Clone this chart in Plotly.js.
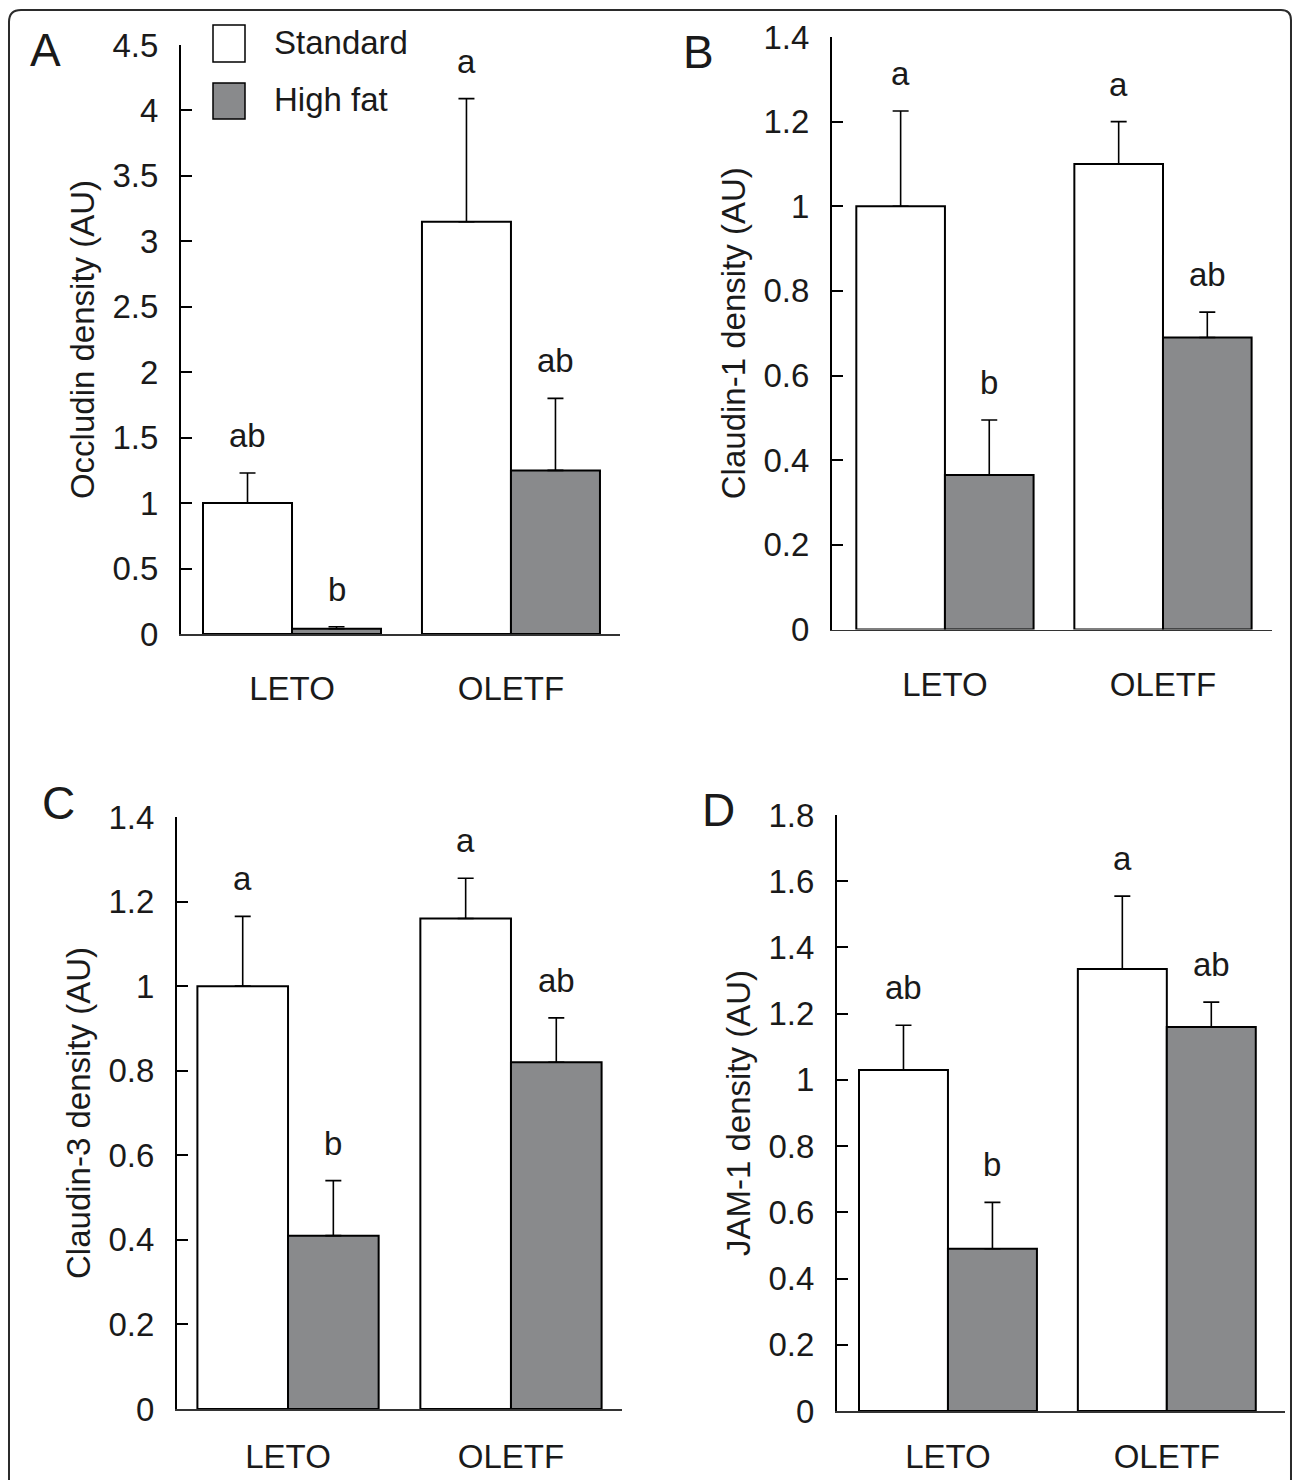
<!DOCTYPE html>
<html><head><meta charset="utf-8">
<script src="https://cdn.plot.ly/plotly-3.0.1.min.js"></script>
<style>html,body{margin:0;padding:0;background:#fff}</style>
</head><body><div id="chart" style="width:1293px;height:1480px"></div>
<script>
// ---------- data ----------
const categories = ['LETO', 'OLETF'];
const seriesNames = ['Standard', 'High fat'];

// Panel A: Occludin
const occludinStandard = [1.00, 3.15];
const occludinStandardErr = [0.23, 0.94];
const occludinHighFat = [0.04, 1.25];
const occludinHighFatErr = [0.015, 0.55];
const occludinStandardLetters = ['ab', 'a'];
const occludinHighFatLetters = ['b', 'ab'];

// Panel B: Claudin-1
const claudin1Standard = [1.00, 1.10];
const claudin1StandardErr = [0.225, 0.10];
const claudin1HighFat = [0.365, 0.69];
const claudin1HighFatErr = [0.13, 0.06];
const claudin1StandardLetters = ['a', 'a'];
const claudin1HighFatLetters = ['b', 'ab'];

// Panel C: Claudin-3
const claudin3Standard = [1.00, 1.16];
const claudin3StandardErr = [0.165, 0.095];
const claudin3HighFat = [0.41, 0.82];
const claudin3HighFatErr = [0.13, 0.105];
const claudin3StandardLetters = ['a', 'a'];
const claudin3HighFatLetters = ['b', 'ab'];

// Panel D: JAM-1
const jam1Standard = [1.03, 1.335];
const jam1StandardErr = [0.135, 0.22];
const jam1HighFat = [0.49, 1.16];
const jam1HighFatErr = [0.14, 0.075];
const jam1StandardLetters = ['ab', 'a'];
const jam1HighFatLetters = ['b', 'ab'];

const yTitles = ['Occludin density (AU)', 'Claudin-1 density (AU)', 'Claudin-3 density (AU)', 'JAM-1 density (AU)'];
const panelLetters = ['A', 'B', 'C', 'D'];

// ---------- style / layout ----------
const W = 1293, H = 1480;
const FONT = 'Liberation Sans, Arial, Helvetica, sans-serif';
const TXT = '#1a1a1a';
const HF_COLOR = '#898a8c';
const BARGAP = 0.187;

const panels = [
  {std: occludinStandard, stdErr: occludinStandardErr, hf: occludinHighFat, hfErr: occludinHighFatErr,
   lStd: occludinStandardLetters, lHf: occludinHighFatLetters, yMax: 4.5, dtick: 0.5,
   box: [181, 620, 45, 634], xr: [-0.507, 1.498], lab: [45, 50], xStand: 25},
  {std: claudin1Standard, stdErr: claudin1StandardErr, hf: claudin1HighFat, hfErr: claudin1HighFatErr,
   lStd: claudin1StandardLetters, lHf: claudin1HighFatLetters, yMax: 1.4, dtick: 0.2,
   box: [832, 1272, 37, 629.5], xr: [-0.518, 1.5], lab: [698, 52], xStand: 25},
  {std: claudin3Standard, stdErr: claudin3StandardErr, hf: claudin3HighFat, hfErr: claudin3HighFatErr,
   lStd: claudin3StandardLetters, lHf: claudin3HighFatLetters, yMax: 1.4, dtick: 0.2,
   box: [177, 622, 817, 1409], xr: [-0.498, 1.498], lab: [58, 803], xStand: 18},
  {std: jam1Standard, stdErr: jam1StandardErr, hf: jam1HighFat, hfErr: jam1HighFatErr,
   lStd: jam1StandardLetters, lHf: jam1HighFatLetters, yMax: 1.8, dtick: 0.2,
   box: [837, 1285, 815, 1411], xr: [-0.507, 1.54], lab: [718, 810], xStand: 16}
];

const data = [];
const layout = {
  width: W, height: H,
  margin: {l: 0, r: 0, t: 0, b: 0, autoexpand: false},
  paper_bgcolor: '#fff', plot_bgcolor: 'rgba(0,0,0,0)',
  barmode: 'group', bargap: BARGAP, bargroupgap: 0,
  showlegend: false,
  font: {family: FONT, color: TXT, size: 33},
  annotations: [], shapes: []
};

const errStyle = (arr) => ({type: 'data', symmetric: false, array: arr, arrayminus: arr.map(() => 0),
  color: '#000', thickness: 1.6, width: 8, visible: true});

const halfOffset = (1 - BARGAP) / 4;

panels.forEach((p, i) => {
  const n = i === 0 ? '' : String(i + 1);
  const xa = 'x' + n, ya = 'y' + n;
  data.push({type: 'bar', name: seriesNames[0], x: categories, y: p.std, xaxis: xa, yaxis: ya,
    marker: {color: '#ffffff', line: {color: '#000', width: 2}}, error_y: errStyle(p.stdErr), hoverinfo: 'y'});
  data.push({type: 'bar', name: seriesNames[1], x: categories, y: p.hf, xaxis: xa, yaxis: ya,
    marker: {color: HF_COLOR, line: {color: '#000', width: 2}}, error_y: errStyle(p.hfErr), hoverinfo: 'y'});

  const [x0, x1, yt, yb] = p.box;
  layout['xaxis' + n] = {
    domain: [x0 / W, x1 / W], range: p.xr, anchor: ya, type: 'category',
    showline: true, linecolor: '#333', linewidth: 1.5, ticks: '', showgrid: false, zeroline: false,
    tickfont: {size: 33, color: TXT, family: FONT}, ticklabelstandoff: p.xStand, automargin: false, fixedrange: true
  };
  layout['yaxis' + n] = {
    domain: [1 - yb / H, 1 - yt / H], range: [0, p.yMax], tick0: 0, dtick: p.dtick, anchor: xa,
    showline: true, linecolor: '#000', linewidth: 2, ticks: 'inside', ticklen: 11, tickwidth: 2, tickcolor: '#000',
    showgrid: false, zeroline: false, tickfont: {size: 33, color: TXT, family: FONT}, ticklabelstandoff: 14,
    title: {text: yTitles[i], font: {size: 33, color: TXT, family: FONT}, standoff: 8},
    automargin: false, fixedrange: true
  };

  // significance letters above error bars
  categories.forEach((c, k) => {
    layout.annotations.push({xref: xa, yref: ya, x: k - halfOffset, y: p.std[k] + p.stdErr[k],
      text: p.lStd[k], showarrow: false, yanchor: 'bottom', yshift: 17, font: {size: 33, color: TXT}});
    layout.annotations.push({xref: xa, yref: ya, x: k + halfOffset, y: p.hf[k] + p.hfErr[k],
      text: p.lHf[k], showarrow: false, yanchor: 'bottom', yshift: 17, font: {size: 33, color: TXT}});
  });

  // panel letter
  layout.annotations.push({xref: 'paper', yref: 'paper', x: p.lab[0] / W, y: 1 - p.lab[1] / H,
    text: panelLetters[i], showarrow: false, xanchor: 'center', yanchor: 'middle',
    font: {size: 46, color: TXT}});
});

// legend (panel A)
const legendRows = [[25, 62, '#ffffff', 43], [83, 119, HF_COLOR, 99]];
legendRows.forEach((r, k) => {
  layout.shapes.push({type: 'rect', xref: 'paper', yref: 'paper', x0: 213 / W, x1: 245 / W,
    y0: 1 - r[1] / H, y1: 1 - r[0] / H, fillcolor: r[2], line: {color: '#000', width: 1.5}});
  layout.annotations.push({xref: 'paper', yref: 'paper', x: 272 / W, y: 1 - r[3] / H,
    text: seriesNames[k], showarrow: false, xanchor: 'left', yanchor: 'middle', font: {size: 33, color: TXT}});
});

// outer frame with rounded top corners
const px = (v) => (v / W).toFixed(5), py = (v) => (1 - v / H).toFixed(5);
layout.shapes.push({type: 'path', xref: 'paper', yref: 'paper', layer: 'above',
  path: `M ${px(9)},${py(1490)} L ${px(9)},${py(22)} Q ${px(9)},${py(10)} ${px(21)},${py(10)} ` +
        `L ${px(1281)},${py(10)} Q ${px(1291)},${py(10)} ${px(1291)},${py(20)} L ${px(1291)},${py(1490)}`,
  line: {color: '#2b2b2b', width: 2}});

Plotly.newPlot('chart', data, layout, {staticPlot: true, displayModeBar: false});
</script></body></html>
